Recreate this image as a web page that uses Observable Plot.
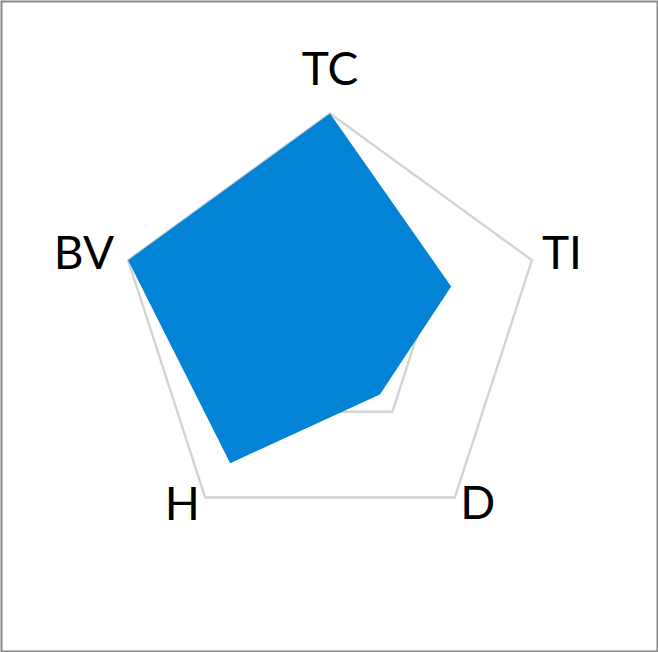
<!DOCTYPE html>
<html>
<head>
<meta charset="utf-8">
<script src="https://cdn.jsdelivr.net/npm/d3@7"></script>
<script src="https://cdn.jsdelivr.net/npm/@observablehq/plot@0.6"></script>
<style>
  html, body { margin: 0; padding: 0; background: #fff; }
  #chart { width: 658px; height: 652px; }
  svg { display: block; }
</style>
</head>
<body>
<div id="chart"></div>
<script>
// ---- data ----
const axes = ["TC", "TI", "D", "H", "BV"];
const values = [5, 3, 2, 4, 5];
const maxValue = 5;
const gridLevels = [2.5, 5];

// ---- layout ----
const W = 658, H = 652;
const cx = 329.5, cy = 325.3, R = 212.3;
const n = axes.length;
const angle = i => (2 * Math.PI * i) / n; // clockwise from top
const pt = (i, r) => ({ x: r * Math.sin(angle(i)), y: r * Math.cos(angle(i)) });

const polygon = axes.map((a, i) => ({ axis: a, ...pt(i, values[i] / maxValue) }));
const grid = gridLevels.flatMap(level =>
  axes.map((a, i) => ({ level, ...pt(i, level / maxValue) }))
);
const labels = axes.map((a, i) => ({ label: a, ...pt(i, 1) }));

const labelStyle = {
  TC: { textAnchor: "middle", dx: 0, dy: -43 },
  TI: { textAnchor: "start", dx: 10, dy: -6 },
  D:  { textAnchor: "middle", dx: 23, dy: 7 },
  H:  { textAnchor: "middle", dx: -23, dy: 8 },
  BV: { textAnchor: "end", dx: -14, dy: -6 }
};

const chart = Plot.plot({
  width: W,
  height: H,
  margin: 0,
  x: { domain: [-cx / R, (W - cx) / R], axis: null },
  y: { domain: [-(H - cy) / R, cy / R], axis: null },
  style: { fontFamily: "Lato, 'Open Sans', sans-serif", background: "#fff" },
  marks: [
    Plot.line(grid, { x: "x", y: "y", z: "level", stroke: "#d3d3d3", strokeWidth: 2.4, curve: "linear-closed" }),
    Plot.line(polygon, { x: "x", y: "y", fill: "#0283d5", stroke: "none", curve: "linear-closed" }),
    ...labels.map(d => Plot.text([d], {
      x: "x", y: "y", text: "label",
      fontSize: 46, fill: "#000",
      ...labelStyle[d.label]
    })),
    Plot.frame({ stroke: "#888", strokeWidth: 2, inset: 1 })
  ]
});
document.getElementById("chart").append(chart);
</script>
</body>
</html>
